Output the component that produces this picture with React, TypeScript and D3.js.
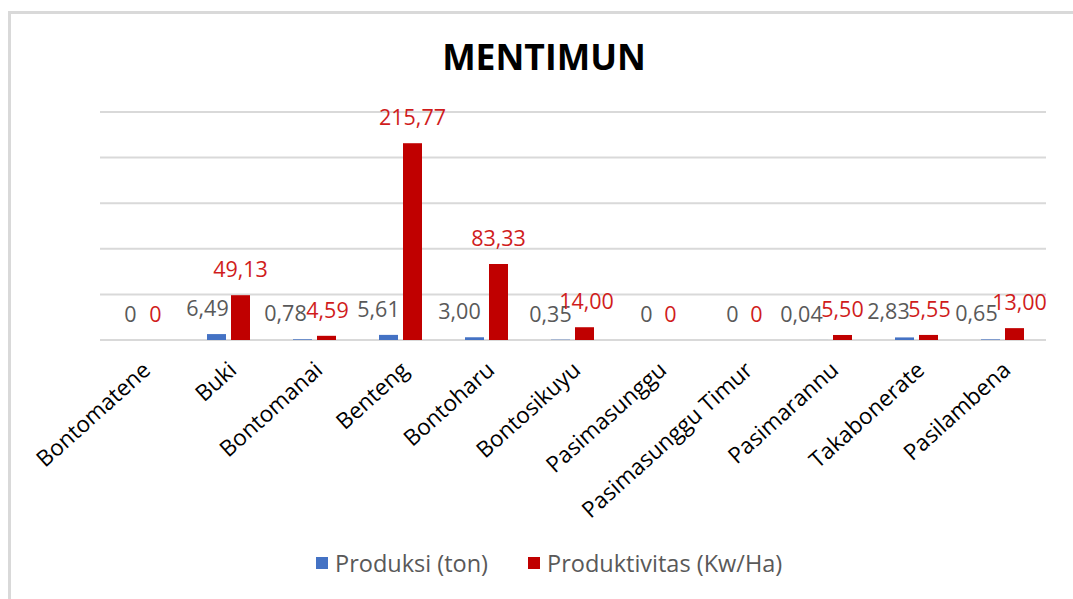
import React, { useRef, useEffect } from "react";
import * as d3 from "d3";

const categories = [
  "Bontomatene",
  "Buki",
  "Bontomanai",
  "Benteng",
  "Bontoharu",
  "Bontosikuyu",
  "Pasimasunggu",
  "Pasimasunggu Timur",
  "Pasimarannu",
  "Takabonerate",
  "Pasilambena",
];
const produksi = [0, 6.49, 0.78, 5.61, 3.0, 0.35, 0, 0, 0.04, 2.83, 0.65];
const produktivitas = [0, 49.13, 4.59, 215.77, 83.33, 14.0, 0, 0, 5.5, 5.55, 13.0];
const yTicks = [0, 50, 100, 150, 200, 250];
const seriesNames = ["Produksi (ton)", "Produktivitas (Kw/Ha)"];

// hand-moved data labels in the original (x nudge, px)
const produksiLabelDx = [0, -9, -17, -10, -15, -10, 0, 0, -17, -16, -14];
const produktivitasLabelDx = [1, 0, 1, 0, 0, 2, 0, 0, 0, 1, 5];

const FONT = "'Open Sans', sans-serif";

function fmt(v: number) {
  if (v === 0) return "0";
  return v.toFixed(2).replace(".", ",");
}

function App() {
  const canvas = useRef<SVGSVGElement | null>(null);

  function drawChart() {
    const width = 1073;
    const height = 599;
    const svg = d3.select(canvas.current).attr("width", width).attr("height", height);
    svg.selectAll("*").remove();

    svg.append("rect").attr("width", width).attr("height", height).attr("fill", "#fff");

    // chart border (only left + top are inside the crop)
    svg
      .append("path")
      .attr("d", `M9.5,${height} L9.5,12.5 L${width},12.5`)
      .attr("fill", "none")
      .attr("stroke", "#d9d9d9")
      .attr("stroke-width", 3);

    svg
      .append("text")
      .attr("x", 544)
      .attr("y", 70)
      .attr("text-anchor", "middle")
      .style("font-family", FONT)
      .style("font-weight", "bold")
      .style("font-size", "35.5px")
      .attr("fill", "#000")
      .text("MENTIMUN");

    const x = d3.scaleBand().domain(categories).range([100, 1046]);
    const y = d3.scaleLinear().domain([0, 250]).range([340, 112]);

    svg
      .append("g")
      .selectAll("line")
      .data(yTicks)
      .enter()
      .append("line")
      .attr("x1", 100)
      .attr("x2", 1046)
      .attr("y1", (d) => y(d))
      .attr("y2", (d) => y(d))
      .attr("stroke", "#d9d9d9")
      .attr("stroke-width", 2);

    const barW = 19;
    const series = [
      { values: produksi, dx: produksiLabelDx, color: "#4472C4", label: "#595959", off: -22 },
      { values: produktivitas, dx: produktivitasLabelDx, color: "#C00000", label: "#d01c1c", off: 2 },
    ];

    series.forEach((s) => {
      const g = svg.append("g");
      g.selectAll("rect")
        .data(s.values)
        .enter()
        .append("rect")
        .attr("x", (d, i) => x(categories[i])! + x.bandwidth() / 2 + s.off)
        .attr("y", (d) => y(d))
        .attr("width", barW)
        .attr("height", (d) => y(0) - y(d))
        .attr("fill", s.color);
    });

    series.forEach((s) => {
      svg
        .append("g")
        .selectAll("text")
        .data(s.values)
        .enter()
        .append("text")
        .attr("x", (d, i) => x(categories[i])! + x.bandwidth() / 2 + s.off + barW / 2 + s.dx[i])
        .attr("y", (d) => y(d) - 18)
        .attr("text-anchor", "middle")
        .style("font-family", FONT)
        .style("font-size", "21.5px")
        .attr("fill", s.label)
        .text((d) => fmt(d));
    });

    svg
      .append("g")
      .selectAll("text")
      .data(categories)
      .enter()
      .append("text")
      .attr("transform", (d) => `translate(${x(d)! + x.bandwidth() / 2 + 9},372) rotate(-42)`)
      .attr("text-anchor", "end")
      .style("font-family", FONT)
      .style("font-size", "22.5px")
      .attr("fill", "#000")
      .text((d) => d);

    const legend = [
      { name: seriesNames[0], color: "#4472C4", sx: 316 },
      { name: seriesNames[1], color: "#C00000", sx: 528 },
    ];
    const lg = svg.append("g");
    lg.selectAll("rect")
      .data(legend)
      .enter()
      .append("rect")
      .attr("x", (d) => d.sx)
      .attr("y", 557)
      .attr("width", 12)
      .attr("height", 12)
      .attr("fill", (d) => d.color);
    lg.selectAll("text")
      .data(legend)
      .enter()
      .append("text")
      .attr("x", (d) => d.sx + 19)
      .attr("y", 572)
      .style("font-family", FONT)
      .style("font-size", "23.5px")
      .attr("fill", "#595959")
      .text((d) => d.name);
  }

  useEffect(() => {
    document.body.style.margin = "0";
    drawChart();
  }, []);

  return (
    <>
      <svg ref={canvas} style={{ display: "block" }}></svg>
    </>
  );
}

export default App;
